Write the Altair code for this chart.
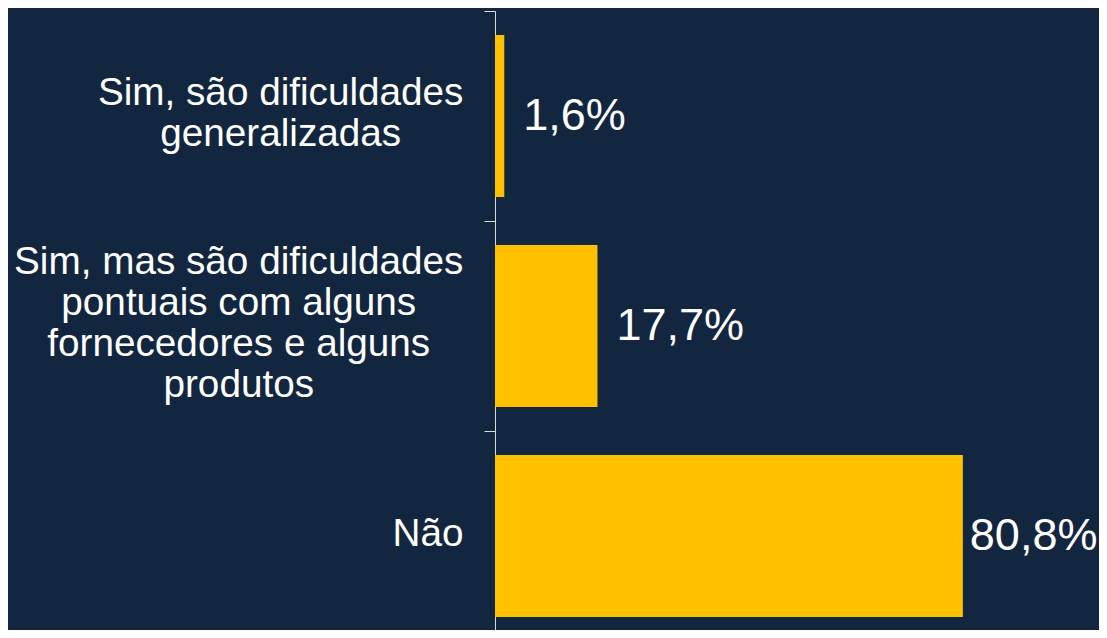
import json
import altair as alt
import pandas as pd

# ---- data ----
categories = [
    "Sim, são dificuldades\ngeneralizadas",
    "Sim, mas são dificuldades\npontuais com alguns\nfornecedores e alguns\nprodutos",
    "Não",
]
percent = [1.6, 17.7, 80.8]

BG = "#12263F"
BAR = "#FFC000"
AXIS = "#D9D9D9"
FONT = "Liberation Sans"
LABEL_SIZE = 38.7
LINE_H = 41
VALUE_SIZE = 45
TICK = 11
RANGE = 630
HALF_STEP = RANGE / len(categories) / 2

# Arial / Liberation Sans advance widths (units per 1000 em) for centring each label block
ADV = {" ": 278, ",": 278, "S": 667, "N": 722, "a": 556, "c": 500, "d": 556, "e": 556,
       "f": 278, "g": 556, "i": 222, "l": 222, "m": 833, "n": 556, "o": 556, "p": 556,
       "r": 333, "s": 500, "t": 278, "u": 556, "z": 500, "ã": 556}


def block_width(label):
    return max(sum(ADV.get(ch, 556) for ch in line) for line in label.split("\n")) * LABEL_SIZE / 1000


def n_lines(label):
    return label.count("\n") + 1


def per_label(values):
    return {
        "condition": [
            {"test": f"datum.value === {json.dumps(c)}", "value": v}
            for c, v in zip(categories, values)
        ],
        "value": values[-1],
    }


# labels' right edge sits about 21px left of the tick ends; lines are centred inside each block
pads = [21 + block_width(c) / 2 for c in categories]
# ticks are moved to the band boundaries (tickOffset also moves labels, so move them back)
# and each multi-line block is centred on its band
offsets = [HALF_STEP - (n_lines(c) - 1) * LINE_H / 2 - 3 for c in categories]

df = pd.DataFrame({"cat": categories, "pct": percent})

y_enc = alt.Y(
    "cat:N",
    sort=categories,
    title=None,
    scale=alt.Scale(range=[0, RANGE], paddingInner=0.229, paddingOuter=0.1145),
    axis=alt.Axis(
        domainColor=AXIS,
        domainWidth=1,
        tickColor=AXIS,
        tickWidth=1,
        tickSize=TICK,
        tickOffset=-HALF_STEP,
        labelColor="white",
        labelFont=FONT,
        labelFontSize=LABEL_SIZE,
        labelLineHeight=LINE_H,
        labelAlign="center",
        labelBaseline="middle",
        labelLimit=0,
        labelPadding=per_label(pads),
        labelOffset=per_label(offsets),
        labelExpr="split(datum.label, '\\n')",
        grid=False,
    ),
)
x_enc = alt.X("pct:Q", scale=alt.Scale(domain=[0, 100]), axis=None)

base = alt.Chart(df).encode(y=y_enc, x=x_enc)

bars = base.mark_bar(color=BAR)

label_calc = "replace(format(datum.pct, '.1f'), '.', ',') + '%'"
text_small = (
    base.transform_filter("datum.pct < 50")
    .transform_calculate(lbl=label_calc)
    .mark_text(align="left", baseline="middle", dx=19, font=FONT, fontSize=VALUE_SIZE, color="white")
    .encode(text="lbl:N")
)
text_big = (
    base.transform_filter("datum.pct >= 50")
    .transform_calculate(lbl=label_calc)
    .mark_text(align="left", baseline="middle", dx=7, font=FONT, fontSize=VALUE_SIZE, color="white")
    .encode(text="lbl:N")
)

chart = (
    alt.layer(bars, text_small, text_big)
    .properties(
        width=579,
        height=619,
        background=BG,
        autosize=alt.AutoSizeParams(type="none"),
        padding={"left": 487, "top": 3, "right": 25, "bottom": 0},
    )
    .configure_view(stroke=None)
)

chart.save("out.html", embed_options={"renderer": "svg", "actions": False})
